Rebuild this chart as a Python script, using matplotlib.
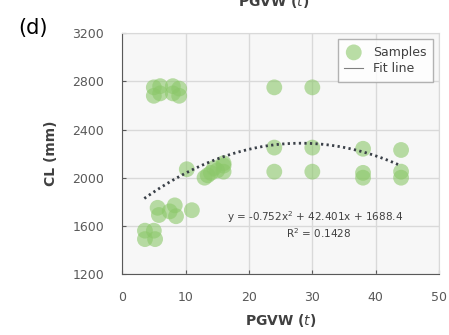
import numpy as np
import matplotlib.pyplot as plt

# sample points
pgvw = [5, 5, 6, 6, 8, 8, 9, 9,
        3.6, 3.6, 5, 5.2,
        5.6, 5.8, 8.3, 8.5, 7.5, 11,
        10.2, 13, 13.5, 14, 14.5, 15, 16, 16, 16,
        24, 24, 24, 30, 30, 30,
        38, 38, 38, 44, 44, 44]
cl = [2750, 2680, 2700, 2760, 2760, 2700, 2680, 2740,
      1560, 1490, 1560, 1490,
      1750, 1690, 1770, 1680, 1720, 1730,
      2070, 2000, 2020, 2040, 2080, 2060, 2100, 2050, 2120,
      2750, 2250, 2050, 2750, 2250, 2050,
      2240, 2040, 2000, 2230, 2050, 2000]

# fit coefficients from the chart annotation
a, b, c = -0.752, 42.401, 1688.4
fit_x = np.linspace(3.5, 44, 60)
fit_y = a * fit_x**2 + b * fit_x + c

fig = plt.figure(figsize=(4.49, 3.35), dpi=100)
ax = fig.add_axes([0.272, 0.182, 0.706, 0.719])
ax.set_facecolor('#f7f7f7')

ax.scatter(pgvw, cl, s=130, color='#8cc86a', alpha=0.6, edgecolors='none',
           label='Samples', zorder=3)
ax.plot(fit_x, fit_y, color='#3a4048', lw=2, dashes=(0.8, 1.2), label='Fit line', zorder=4)

ax.set_xlim(0, 50)
ax.set_ylim(1200, 3200)
ax.set_xticks(range(0, 51, 10))
ax.set_yticks(range(1200, 3201, 400))
ax.grid(True, color='#d9d9d9', lw=1)
ax.set_axisbelow(True)
ax.tick_params(direction='in', length=3, colors='#595959', labelsize=9, pad=12)
ax.tick_params(axis='y', pad=13)
for side in ['top', 'right']:
    ax.spines[side].set_color('#d9d9d9')
for side in ['left', 'bottom']:
    ax.spines[side].set_color('#595959')

ax.set_xlabel('PGVW ($\\mathit{t}$)', fontsize=10, fontweight='bold', color='#404040', labelpad=6)
ax.set_ylabel('CL (mm)', fontsize=10, fontweight='bold', color='#404040', labelpad=10)

ax.text(30.5, 1670, 'y = -0.752x$^2$ + 42.401x + 1688.4', fontsize=7.5, color='#404040', ha='center', va='center')
ax.text(31, 1540, 'R$^2$ = 0.1428', fontsize=7.5, color='#404040', ha='center', va='center')

leg = ax.legend(loc='upper right', fontsize=9, frameon=True, fancybox=False,
                handlelength=1.5, borderpad=0.5, labelspacing=0.3)
leg.get_frame().set_edgecolor('#a0a0a0')
leg.get_frame().set_facecolor('white')
leg.get_lines()[0].set_linestyle('-')
leg.get_lines()[0].set_linewidth(0.8)
leg.get_lines()[0].set_color('#808080')
for t in leg.get_texts():
    t.set_color('#404040')

fig.text(0.61, 0.995, 'PGVW ($\\mathit{t}$)', fontsize=10, fontweight='bold', color='#404040', ha='center', va='center')
fig.text(0.04, 0.915, '(d)', fontsize=15, color='black', ha='left', va='center')

fig.savefig('out.png', dpi=100)
